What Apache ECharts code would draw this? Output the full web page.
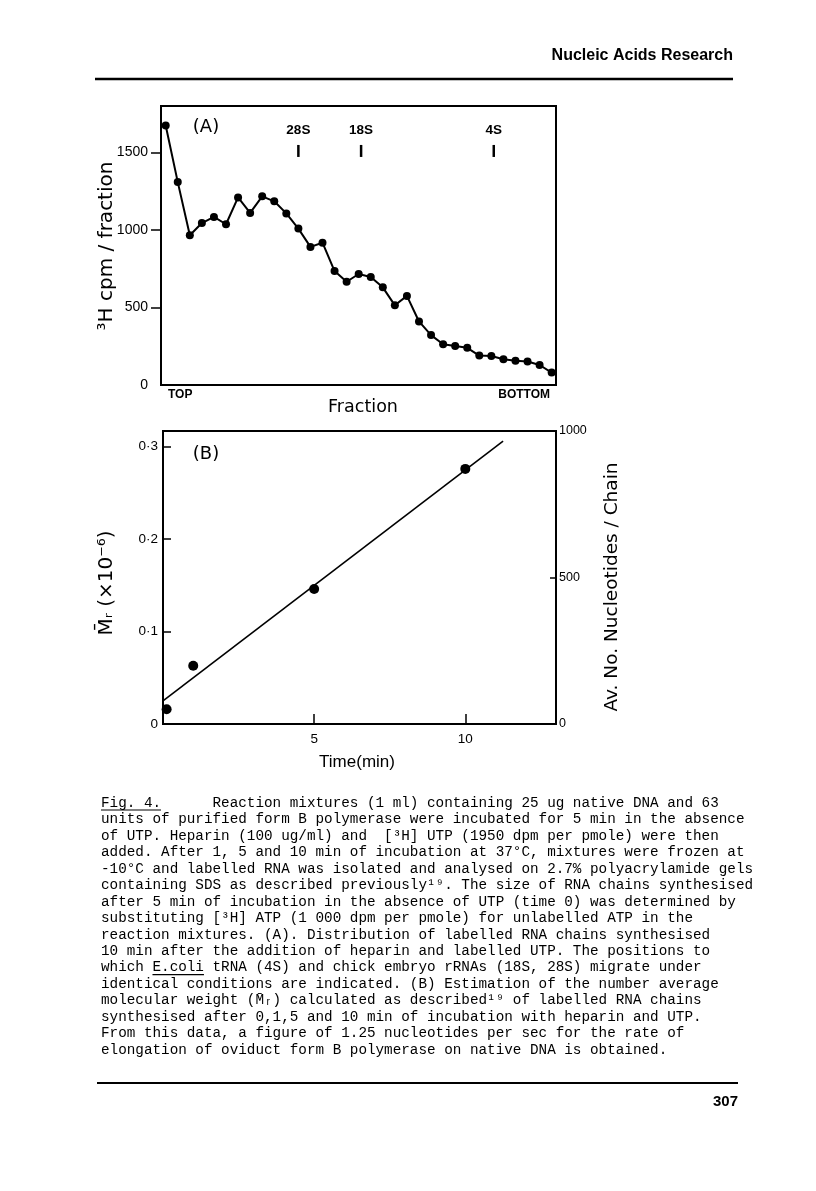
<!DOCTYPE html>
<html>
<head>
<meta charset="utf-8">
<script src="https://cdn.jsdelivr.net/npm/echarts@6/dist/echarts.min.js"></script>
<style>
html,body{margin:0;padding:0;background:#fff;}
#chart{width:816px;height:1191px;}
</style>
</head>
<body>
<div id="chart"></div>
<script>
// ---- Panel A data ----
const fractionNumbers = [1,2,3,4,5,6,7,8,9,10,11,12,13,14,15,16,17,18,19,20,21,22,23,24,25,26,27,28,29,30,31,32,33];
const cpmPerFraction = [1674,1309,966,1045,1084,1037,1210,1110,1217,1185,1107,1009,891,918,735,666,716,697,630,514,575,410,322,263,252,240,190,187,166,156,152,129,80];
const markerNames = ['28S','18S','4S'];
const markerFractions = [12, 17.2, 28.2];
const markerLevel = [1510, 1510, 1510];
const yTicksA = [0, 500, 1000, 1500];

// ---- Panel B data ----
const timeMinutes = [0.12, 1, 5, 10];
const mrValues = [0.016, 0.063, 0.146, 0.276];
const fitTimes = [0, 11.25];
const fitMr = [0.025, 0.306];
const xTicksB = [5, 10];
const yTicksB = [0, 0.1, 0.2, 0.3];
const yRightTicksB = [0, 500, 1000];

// ---- Text ----
const captionLines = [
  'Fig. 4.      Reaction mixtures (1 ml) containing 25 ug native DNA and 63',
  'units of purified form B polymerase were incubated for 5 min in the absence',
  'of UTP. Heparin (100 ug/ml) and  [³H] UTP (1950 dpm per pmole) were then',
  'added. After 1, 5 and 10 min of incubation at 37°C, mixtures were frozen at',
  '-10°C and labelled RNA was isolated and analysed on 2.7% polyacrylamide gels',
  'containing SDS as described previously¹⁹. The size of RNA chains synthesised',
  'after 5 min of incubation in the absence of UTP (time 0) was determined by',
  'substituting [³H] ATP (1 000 dpm per pmole) for unlabelled ATP in the',
  'reaction mixtures. (A). Distribution of labelled RNA chains synthesised',
  '10 min after the addition of heparin and labelled UTP. The positions to',
  'which E.coli tRNA (4S) and chick embryo rRNAs (18S, 28S) migrate under',
  'identical conditions are indicated. (B) Estimation of the number average',
  'molecular weight (M̄ᵣ) calculated as described¹⁹ of labelled RNA chains',
  'synthesised after 0,1,5 and 10 min of incubation with heparin and UTP.',
  'From this data, a figure of 1.25 nucleotides per sec for the rate of',
  'elongation of oviduct form B polymerase on native DNA is obtained.'
];

const chart = echarts.init(document.getElementById('chart'), null, {renderer: 'canvas'});

const capFont = '14.3px "Liberation Mono"';
const capX = 101, capY0 = 803, capDY = 16.47;
const cv = document.createElement('canvas').getContext('2d');
cv.font = capFont;
const pitch = cv.measureText('M').width;

const graphics = [];
function txt(x, y, text, font, align, valign, rot) {
  graphics.push({
    type: 'text', x: x, y: y, rotation: rot || 0, silent: true,
    style: {text: text, font: font, fill: '#000',
      textAlign: align, textVerticalAlign: valign, align: align, verticalAlign: valign}
  });
}
function line(x1, y1, x2, y2, w) {
  graphics.push({type: 'line', silent: true, shape: {x1: x1, y1: y1, x2: x2, y2: y2},
    style: {stroke: '#000', lineWidth: w}});
}

// header / footer
txt(733, 56, 'Nucleic Acids Research', 'bold 16px "Liberation Sans"', 'right', 'middle');
line(95, 79, 733, 79, 2.5);
line(97, 1083, 738, 1083, 2);
txt(738, 1102, '307', 'bold 15px "Liberation Sans"', 'right', 'middle');

// panel labels
txt(206, 127, '(A)', '18px "DejaVu Sans"', 'center', 'middle');
txt(206, 454, '(B)', '18px "DejaVu Sans"', 'center', 'middle');
txt(168, 395, 'TOP', 'bold 12px "Liberation Sans"', 'left', 'middle');
txt(550, 395, 'BOTTOM', 'bold 12px "Liberation Sans"', 'right', 'middle');
txt(363, 407, 'Fraction', '17.5px "DejaVu Sans"', 'center', 'middle');
txt(357, 762, 'Time(min)', '17px "Liberation Sans"', 'center', 'middle');
txt(107, 246, '³H cpm / fraction', '20px "DejaVu Sans"', 'center', 'middle', Math.PI / 2);
txt(107, 583, 'M̄ᵣ (×10⁻⁶)', '20px "DejaVu Sans"', 'center', 'middle', Math.PI / 2);
txt(612, 587, 'Av. No. Nucleotides / Chain', '18.5px "DejaVu Sans"', 'center', 'middle', Math.PI / 2);

// caption
captionLines.forEach(function (s, i) {
  txt(capX, capY0 + i * capDY, s, capFont, 'left', 'middle');
});
// underlines: "Fig. 4." and "E.coli"
line(capX, capY0 + 7, capX + 7 * pitch, capY0 + 7, 1.2);
const ecIdx = captionLines[10].indexOf('E.coli');
line(capX + ecIdx * pitch, capY0 + 10 * capDY + 7, capX + (ecIdx + 6) * pitch, capY0 + 10 * capDY + 7, 1.2);

const plain = function (v) { return String(v); };

const option = {
  animation: false,
  backgroundColor: '#fff',
  grid: [
    {left: 161, top: 106, width: 395, height: 279, show: true, borderColor: '#000', borderWidth: 2,
     containLabel: false, outerBoundsMode: 'none'},
    {left: 163, top: 431, width: 393, height: 293, show: true, borderColor: '#000', borderWidth: 2,
     containLabel: false, outerBoundsMode: 'none'}
  ],
  xAxis: [
    {type: 'value', gridIndex: 0, min: 0.61, max: 33.36,
     axisLine: {show: true, lineStyle: {color: '#000', width: 2}},
     axisTick: {show: false}, axisLabel: {show: false}, splitLine: {show: false}},
    {type: 'value', gridIndex: 1, min: 0, max: 13,
     axisLine: {show: true, lineStyle: {color: '#000', width: 2}},
     axisTick: {show: true, inside: true, length: 10, customValues: xTicksB, lineStyle: {color: '#000', width: 1.5}},
     axisLabel: {show: true, customValues: xTicksB, margin: 8, fontFamily: 'Liberation Sans', fontSize: 13.5, color: '#000', formatter: plain},
     splitLine: {show: false}}
  ],
  yAxis: [
    {type: 'value', gridIndex: 0, min: 0, max: 1800,
     axisLine: {show: true, lineStyle: {color: '#000', width: 2}},
     axisTick: {show: true, inside: false, length: 10, customValues: yTicksA.slice(1), lineStyle: {color: '#000', width: 1.5}},
     axisLabel: {show: true, customValues: yTicksA, margin: 13, fontFamily: 'Liberation Sans', fontSize: 14, color: '#000', formatter: plain},
     splitLine: {show: false}},
    {type: 'value', gridIndex: 1, min: 0, max: 0.317, position: 'left',
     axisLine: {show: true, lineStyle: {color: '#000', width: 2}},
     axisTick: {show: true, inside: true, length: 8, customValues: yTicksB.slice(1), lineStyle: {color: '#000', width: 1.5}},
     axisLabel: {show: true, customValues: yTicksB, margin: 5, fontFamily: 'Liberation Sans', fontSize: 13.5, color: '#000',
       formatter: function (v) { return v === 0 ? '0' : v.toFixed(1).replace('.', '·'); }},
     splitLine: {show: false}},
    {type: 'value', gridIndex: 1, min: 0, max: 1000, position: 'right',
     axisLine: {show: true, lineStyle: {color: '#000', width: 2}},
     axisTick: {show: true, inside: true, length: 6, customValues: [500], lineStyle: {color: '#000', width: 1.5}},
     axisLabel: {show: true, customValues: yRightTicksB, margin: 3, fontFamily: 'Liberation Sans', fontSize: 12.5, color: '#000', formatter: plain},
     splitLine: {show: false}}
  ],
  series: [
    {type: 'line', xAxisIndex: 0, yAxisIndex: 0,
     data: fractionNumbers.map(function (f, i) { return [f, cpmPerFraction[i]]; }),
     symbol: 'circle', symbolSize: 8, showSymbol: true,
     lineStyle: {color: '#000', width: 2}, itemStyle: {color: '#000', opacity: 1}},
    {type: 'scatter', xAxisIndex: 0, yAxisIndex: 0,
     data: markerNames.map(function (n, i) { return {name: n, value: [markerFractions[i], markerLevel[i]]}; }),
     symbol: 'rect', symbolSize: [2.5, 12], itemStyle: {color: '#000', opacity: 1},
     label: {show: true, position: 'top', distance: 8, formatter: '{b}',
       fontFamily: 'Liberation Sans', fontSize: 13.5, fontWeight: 'bold', color: '#000'}},
    {type: 'line', xAxisIndex: 1, yAxisIndex: 1,
     data: fitTimes.map(function (t, i) { return [t, fitMr[i]]; }),
     showSymbol: false, symbol: 'none', lineStyle: {color: '#000', width: 1.6}},
    {type: 'scatter', xAxisIndex: 1, yAxisIndex: 1,
     data: timeMinutes.map(function (t, i) { return [t, mrValues[i]]; }),
     symbol: 'circle', symbolSize: 10, itemStyle: {color: '#000', opacity: 1}}
  ],
  graphic: graphics
};
chart.setOption(option);
</script>
</body>
</html>
